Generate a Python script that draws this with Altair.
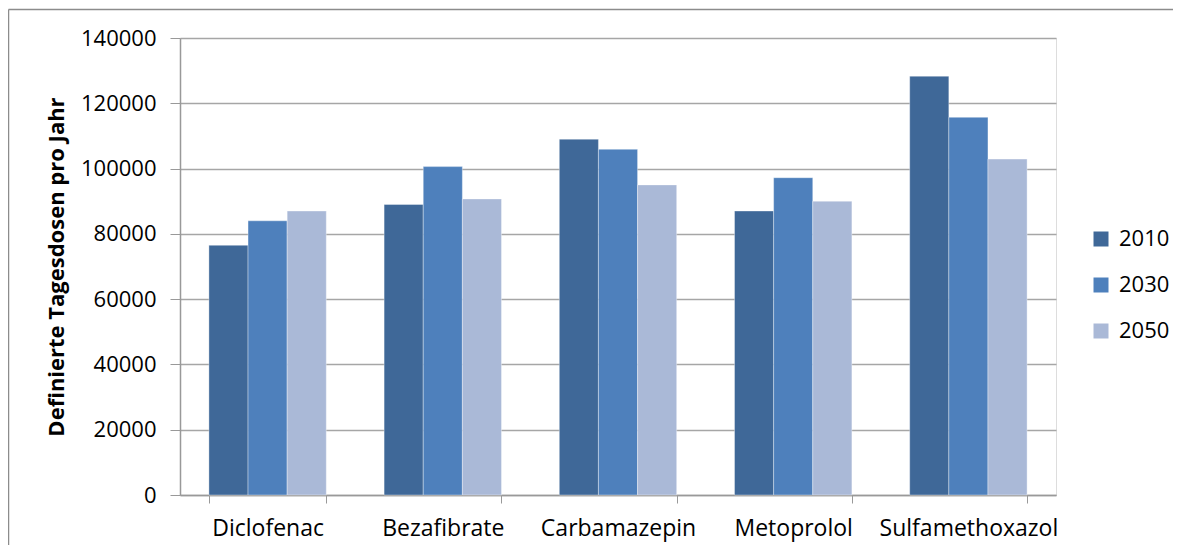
import altair as alt
import pandas as pd

categories = ["Diclofenac", "Bezafibrate", "Carbamazepin", "Metoprolol", "Sulfamethoxazol"]
years = ["2010", "2030", "2050"]
values_2010 = [76500, 89000, 109000, 87000, 128300]
values_2030 = [84000, 100600, 105900, 97200, 115700]
values_2050 = [87000, 90700, 95000, 90000, 102900]
colors = ["#3F6898", "#4E80BC", "#AAB9D7"]

rows = []
for i, c in enumerate(categories):
    for y, vals in zip(years, [values_2010, values_2030, values_2050]):
        rows.append({"Wirkstoff": c, "Jahr": y, "Wert": vals[i]})
df = pd.DataFrame(rows)

W, H = 876, 457
FONT = "Open Sans"

bars = alt.Chart(df).mark_bar(stroke="white", strokeWidth=0.6, strokeOpacity=0.6).encode(
    x=alt.X("Wirkstoff:N", sort=categories, title=None,
            scale=alt.Scale(paddingInner=0.33, paddingOuter=0.165),
            axis=alt.Axis(labelAngle=0, labelFontSize=23, labelColor="#000000", labelFont=FONT,
                          tickBand="extent", tickSize=8, tickColor="#999999",
                          domainColor="#999999", domainWidth=1.5, labelPadding=14,
                          grid=False)),
    xOffset=alt.XOffset("Jahr:N", sort=years),
    y=alt.Y("Wert:Q", title="Definierte Tagesdosen pro Jahr",
            scale=alt.Scale(domain=[0, 140000]),
            axis=alt.Axis(values=[0, 20000, 40000, 60000, 80000, 100000, 120000, 140000],
                          format="d", labelFontSize=22, labelColor="#000000", labelFont=FONT,
                          tickSize=10, tickColor="#999999", domainColor="#999999", domainWidth=1.5,
                          gridColor="#a6a6a6", gridWidth=1.5, labelPadding=14,
                          titleFont=FONT, titleFontSize=22, titleFontWeight="bold",
                          titleColor="#000000", titlePadding=12)),
    color=alt.Color("Jahr:N", sort=years, scale=alt.Scale(domain=years, range=colors),
                    legend=alt.Legend(title=None, orient="none", legendX=910, legendY=190,
                                      symbolType="square", symbolSize=225, symbolStrokeWidth=0,
                                      labelFontSize=22, labelFont=FONT, labelColor="#000000",
                                      rowPadding=24, labelOffset=7)),
)

frame_data = alt.Data(values=[{}])
top_border = alt.Chart(frame_data).mark_rule(stroke="#8c8c8c", strokeWidth=1.5).encode(
    x=alt.value(-171.5), x2=alt.value(W + 117), y=alt.value(-28.5)
)
left_border = alt.Chart(frame_data).mark_rule(stroke="#8c8c8c", strokeWidth=1.5).encode(
    x=alt.value(-171.5), y=alt.value(-28.5), y2=alt.value(H + 50)
)

chart = alt.layer(top_border, left_border, bars).properties(
    width=W, height=H,
    autosize=alt.AutoSizeParams(type="none"),
    padding={"left": 172, "top": 30, "right": 117, "bottom": 50},
).configure_view(stroke=None).configure(background="white")

chart.save("out.html", embed_options={"renderer": "svg", "actions": False})
